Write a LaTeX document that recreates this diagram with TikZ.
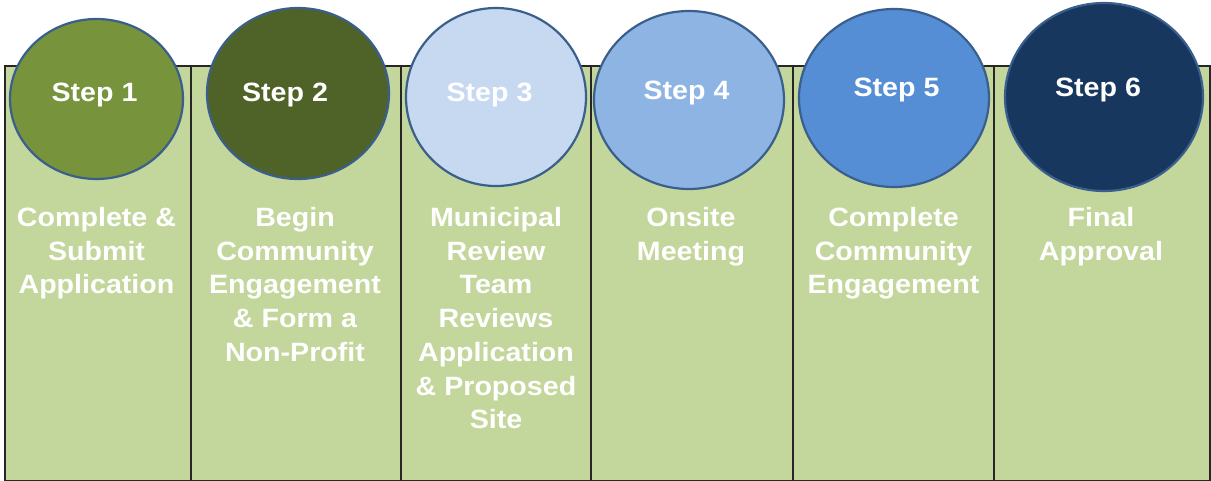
\documentclass[tikz,border=0pt]{standalone}
\usepackage{fontspec}
\setmainfont{Liberation Sans}
\newfontfamily\labfont[FakeStretch=1.08]{Liberation Sans}
\usetikzlibrary{shapes.geometric}
\definecolor{colfill}{HTML}{C3D69B}
\definecolor{ringblue}{HTML}{3A5F8C}
\definecolor{sA}{HTML}{77933C}
\definecolor{sB}{HTML}{4F6228}
\definecolor{sC}{HTML}{C6D9F1}
\definecolor{sD}{HTML}{8EB4E3}
\definecolor{sE}{HTML}{558ED5}
\definecolor{sF}{HTML}{17375E}
\tikzset{
  colbox/.style={rectangle, fill=colfill, draw=black!85, line width=1.8pt, inner sep=0pt, anchor=north west},
  stepball/.style={ellipse, draw=ringblue, line width=2.2pt, inner sep=0pt},
  steplabel/.style={text=white, font=\labfont\bfseries\fontsize{26.5}{33.7}\selectfont, anchor=base, inner sep=0pt},
  bodytext/.style={text=white, font=\labfont\bfseries\fontsize{26.5}{33.7}\selectfont, align=center, anchor=base, inner sep=0pt}
}
\begin{document}
\begin{tikzpicture}[x=1pt,y=-1pt]
\useasboundingbox (0,0) rectangle (1211,481);
% columns
\node[colbox, minimum width=186, minimum height=414.5] (c1) at (4,65.5) {};
\node[colbox, minimum width=210, minimum height=414.5] (c2) at (190,65.5) {};
\node[colbox, minimum width=190, minimum height=414.5] (c3) at (400,65.5) {};
\node[colbox, minimum width=202, minimum height=414.5] (c4) at (590,65.5) {};
\node[colbox, minimum width=201, minimum height=414.5] (c5) at (792,65.5) {};
\node[colbox, minimum width=216, minimum height=414.5] (c6) at (993,65.5) {};
% step ellipses
\node[stepball, fill=sA, minimum width=173, minimum height=160] (e1) at (96.5,99) {};
\node[stepball, fill=sB, minimum width=182, minimum height=171] (e2) at (298,93.5) {};
\node[stepball, fill=sC, minimum width=180, minimum height=178] (e3) at (496,97) {};
\node[stepball, fill=sD, minimum width=190, minimum height=178] (e4) at (689,100) {};
\node[stepball, fill=sE, minimum width=190, minimum height=178] (e5) at (894,98) {};
\node[stepball, fill=sF, minimum width=198, minimum height=188] (e6) at (1104,97) {};
% step labels
\node[steplabel] (s1) at (94.5,102) {Step 1};
\node[steplabel] (s2) at (285,102) {Step 2};
\node[steplabel] (s3) at (489.5,102) {Step 3};
\node[steplabel] (s4) at (686.5,100) {Step 4};
\node[steplabel] (s5) at (896.5,96.5) {Step 5};
\node[steplabel] (s6) at (1098,96.5) {Step 6};
% body texts (anchored at the baseline of the last line)
\node[bodytext] (t1) at (96.5,293.9) {Complete \&\\Submit\\Application};
\node[bodytext] (t2) at (295,361.3) {Begin\\Community\\Engagement\\\& Form a\\Non-Profit};
\node[bodytext] (t3) at (496,428.7) {Municipal\\Review\\Team\\Reviews\\Application\\\& Proposed\\Site};
\node[bodytext] (t4) at (691,260.2) {Onsite\\Meeting};
\node[bodytext] (t5) at (893.5,293.9) {Complete\\Community\\Engagement};
\node[bodytext] (t6) at (1101,260.2) {Final\\Approval};
\end{tikzpicture}
\end{document}
